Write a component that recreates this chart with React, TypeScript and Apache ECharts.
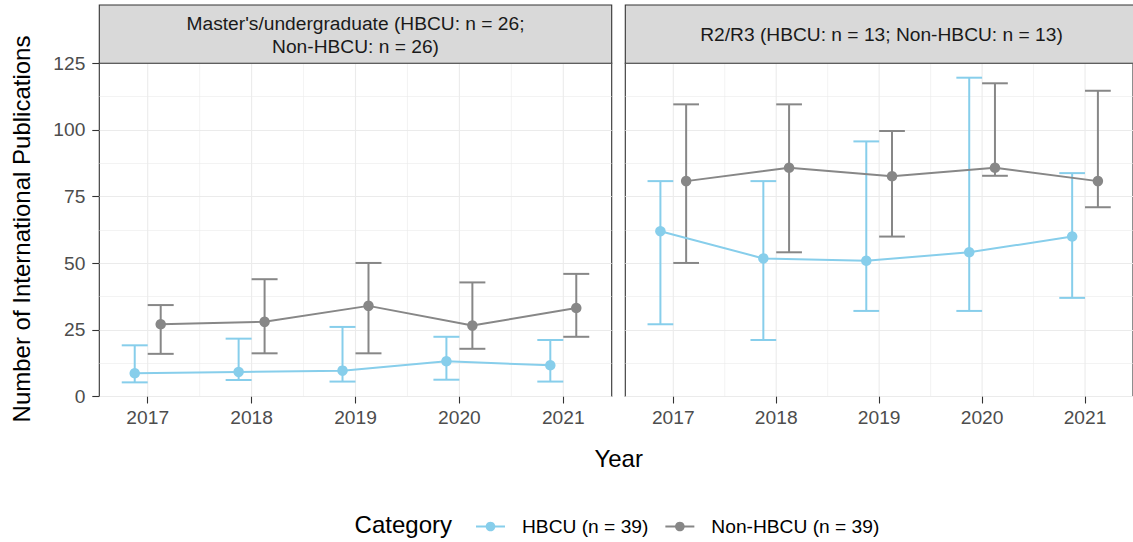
import React, { useEffect, useRef } from 'react';
import * as echarts from 'echarts';

// Year breaks on the x axis and half-year minor grid lines
const years = [2017, 2018, 2019, 2020, 2021];
const minorYears = [2017.5, 2018.5, 2019.5, 2020.5];

const panelTitles = [
  "Master's/undergraduate (HBCU: n = 26;\nNon-HBCU: n = 26)",
  'R2/R3 (HBCU: n = 13; Non-HBCU: n = 13)',
];
const groupNames = ['HBCU (n = 39)', 'Non-HBCU (n = 39)'];

// Master's/undergraduate institutions
const muHbcuMean = [8.7, 9.2, 9.7, 13.2, 11.7];
const muHbcuLow = [5.3, 6.2, 5.6, 6.3, 5.6];
const muHbcuHigh = [19.2, 21.7, 26.1, 22.4, 21.2];
const muNonMean = [27.1, 28.0, 34.0, 26.6, 33.2];
const muNonLow = [16.0, 16.2, 16.2, 17.9, 22.4];
const muNonHigh = [34.3, 44.0, 50.1, 42.8, 46.0];

// R2/R3 institutions
const rHbcuMean = [62.0, 51.8, 50.9, 54.1, 60.0];
const rHbcuLow = [27.1, 21.2, 32.1, 32.1, 37.0];
const rHbcuHigh = [80.8, 80.8, 95.7, 119.6, 83.8];
const rNonMean = [80.8, 85.8, 82.6, 85.8, 80.8];
const rNonLow = [50.1, 54.1, 60.0, 82.8, 71.0];
const rNonHigh = [109.6, 109.6, 99.6, 117.5, 114.7];

const FONT = '"Liberation Sans", Arial, Helvetica, sans-serif';
const COLORS = ['#87CEEB', '#878787'];
const DODGE = [-0.125, 0.125];
const CAP_HALF = 0.125;
const LINE_W = 2;

const GRID_TOP = 63.3;
const GRID_H = 333.2;
const GRID_W = 512.4;
const GRID_LEFT = [99.3, 625.3];

function errorBarSeries(gi: number, group: number, low: number[], high: number[]) {
  return {
    type: 'custom',
    name: 'err-' + gi + '-' + group,
    xAxisIndex: gi,
    yAxisIndex: gi,
    z: 3,
    silent: true,
    encode: { x: 0, y: [1, 2] },
    data: years.map((y, i) => [y + DODGE[group], low[i], high[i]]),
    renderItem: (params: any, api: any) => {
      const x = api.value(0);
      const lo = api.coord([x, api.value(1)]);
      const hi = api.coord([x, api.value(2)]);
      const half = api.size([CAP_HALF, 0])[0];
      const style = { stroke: COLORS[group], lineWidth: LINE_W };
      return {
        type: 'group',
        children: [
          { type: 'line', shape: { x1: lo[0], y1: lo[1], x2: hi[0], y2: hi[1] }, style },
          { type: 'line', shape: { x1: hi[0] - half, y1: hi[1], x2: hi[0] + half, y2: hi[1] }, style },
          { type: 'line', shape: { x1: lo[0] - half, y1: lo[1], x2: lo[0] + half, y2: lo[1] }, style },
        ],
      };
    },
  };
}

function meanSeries(gi: number, group: number, mean: number[]) {
  return {
    type: 'line',
    name: groupNames[group],
    xAxisIndex: gi,
    yAxisIndex: gi,
    z: 4,
    data: years.map((y, i) => [y + DODGE[group], mean[i]]),
    symbol: 'circle',
    symbolSize: 10.5,
    showSymbol: true,
    lineStyle: { color: COLORS[group], width: LINE_W },
    itemStyle: { color: COLORS[group] },
    emphasis: { disabled: true },
  };
}

function xGridSeries(gi: number) {
  const data = [
    ...years.map((y) => [y, 0, 1]),
    ...minorYears.map((y) => [y, 0, 0]),
  ];
  return {
    type: 'custom',
    name: 'xgrid-' + gi,
    xAxisIndex: gi,
    yAxisIndex: gi,
    z: 1,
    silent: true,
    encode: { x: 0, y: 1 },
    data,
    renderItem: (params: any, api: any) => {
      const p = api.coord([api.value(0), 0]);
      const cs = params.coordSys;
      const major = api.value(2) === 1;
      return {
        type: 'line',
        shape: { x1: p[0], y1: cs.y, x2: p[0], y2: cs.y + cs.height },
        style: { stroke: '#EBEBEB', lineWidth: major ? 1.1 : 0.6 },
      };
    },
  };
}

function buildOption() {
  const panels = [
    { mean: [muHbcuMean, muNonMean], low: [muHbcuLow, muNonLow], high: [muHbcuHigh, muNonHigh] },
    { mean: [rHbcuMean, rNonMean], low: [rHbcuLow, rNonLow], high: [rHbcuHigh, rNonHigh] },
  ];

  const series: any[] = [];
  panels.forEach((p, gi) => {
    series.push(xGridSeries(gi));
    [0, 1].forEach((g) => series.push(errorBarSeries(gi, g, p.low[g], p.high[g])));
    [0, 1].forEach((g) => series.push(meanSeries(gi, g, p.mean[g])));
  });

  const grid = GRID_LEFT.map((left) => ({
    left,
    top: GRID_TOP,
    width: GRID_W,
    height: GRID_H,
    show: true,
    borderColor: '#333333',
    borderWidth: 1.1,
    backgroundColor: '#FFFFFF',
    containLabel: false,
  }));

  const xAxis = GRID_LEFT.map((_, gi) => ({
    type: 'value',
    gridIndex: gi,
    min: 2016.534,
    max: 2021.466,
    axisLine: { show: false },
    axisTick: {
      show: true,
      length: 7,
      customValues: years,
      lineStyle: { color: '#333333', width: 1.1 },
    },
    axisLabel: {
      show: true,
      customValues: years,
      margin: 11,
      color: '#4D4D4D',
      fontSize: 19.2,
      fontFamily: FONT,
      formatter: (v: number) => String(v),
    },
    splitLine: { show: false },
  }));

  const yAxis = GRID_LEFT.map((_, gi) => ({
    type: 'value',
    gridIndex: gi,
    min: 0,
    max: 125,
    interval: 25,
    axisLine: { show: false },
    axisTick: {
      show: gi === 0,
      length: 7,
      lineStyle: { color: '#333333', width: 1.1 },
    },
    axisLabel: {
      show: gi === 0,
      margin: 14,
      color: '#4D4D4D',
      fontSize: 19.2,
      fontFamily: FONT,
    },
    splitLine: { show: true, lineStyle: { color: '#EBEBEB', width: 1.1 } },
    minorTick: { show: false, splitNumber: 2 },
    minorSplitLine: { show: true, lineStyle: { color: '#EBEBEB', width: 0.6 } },
  }));

  const graphic: any[] = [];
  GRID_LEFT.forEach((left, gi) => {
    graphic.push({
      type: 'rect',
      shape: { x: left, y: 5, width: GRID_W, height: GRID_TOP - 5 },
      style: { fill: '#D9D9D9', stroke: '#333333', lineWidth: 1.1 },
      z: 10,
    });
    graphic.push({
      type: 'text',
      x: left + GRID_W / 2,
      y: gi === 0 ? 35.3 : 34.5,
      z: 11,
      style: {
        text: panelTitles[gi],
        fill: '#1A1A1A',
        font: '19.2px ' + FONT,
        textAlign: 'center',
        textVerticalAlign: 'middle',
        lineHeight: 22.7,
      },
    });
  });
  graphic.push({
    type: 'text',
    x: 618.7,
    y: 458,
    style: {
      text: 'Year',
      fill: '#000000',
      font: '24px ' + FONT,
      textAlign: 'center',
      textVerticalAlign: 'middle',
    },
  });
  graphic.push({
    type: 'text',
    x: 21,
    y: 229,
    rotation: Math.PI / 2,
    style: {
      text: 'Number of International Publications',
      fill: '#000000',
      font: '24px ' + FONT,
      textAlign: 'center',
      textVerticalAlign: 'middle',
    },
  });
  graphic.push({
    type: 'text',
    x: 452,
    y: 524,
    style: {
      text: 'Category',
      fill: '#000000',
      font: '24px ' + FONT,
      textAlign: 'right',
      textVerticalAlign: 'middle',
    },
  });

  return {
    animation: false,
    backgroundColor: '#FFFFFF',
    textStyle: { fontFamily: FONT },
    grid,
    xAxis,
    yAxis,
    series,
    graphic,
    legend: {
      data: groupNames,
      left: 470,
      top: 512,
      itemWidth: 29,
      itemHeight: 12,
      itemGap: 16,
      selectedMode: false,
      textStyle: {
        color: '#000000',
        fontSize: 19.2,
        fontFamily: FONT,
        padding: [0, 0, 0, 12],
      },
    },
  };
}

export default function App() {
  const ref = useRef<HTMLDivElement>(null);
  useEffect(() => {
    if (!ref.current) return;
    const chart = echarts.init(ref.current, undefined, { renderer: 'svg' });
    chart.setOption(buildOption() as any);
    return () => chart.dispose();
  }, []);
  return (
    <div
      ref={ref}
      style={{ position: 'fixed', left: 0, top: 0, width: 1133, height: 542, background: '#FFFFFF' }}
    />
  );
}
